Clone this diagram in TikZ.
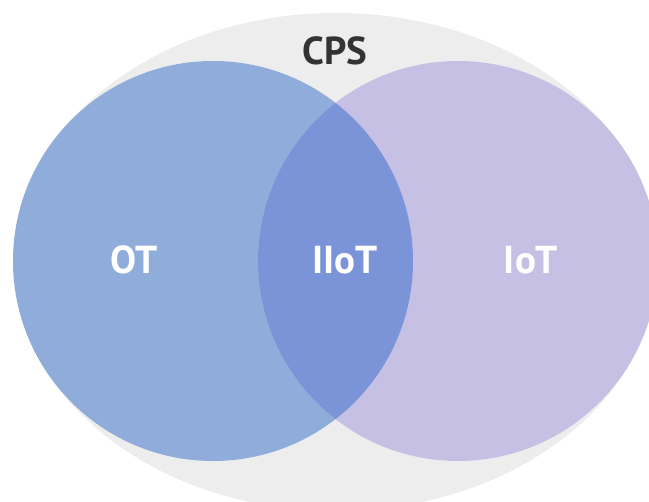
\documentclass[tikz,border=0pt]{standalone}
\usepackage{fontspec}
\setmainfont{PT Sans}
\usepackage{tikz}
\usetikzlibrary{positioning}

\definecolor{cpsgrey}{HTML}{EDEDED}
\definecolor{otblue}{HTML}{8FACDB}
\definecolor{iotlilac}{HTML}{C6C0E5}
\definecolor{iiotblue}{HTML}{7B94D8}
\definecolor{cpstext}{HTML}{333333}

\begin{document}
\begin{tikzpicture}[
  x=1pt, y=-1pt,
  setlabel/.style={font=\bfseries\fontsize{39}{41}\selectfont, text=white, inner sep=0pt},
  cpslabel/.style={font=\bfseries\fontsize{39}{41}\selectfont, text=cpstext, inner sep=0pt}
]

\useasboundingbox (0,0) rectangle (649,502);
\clip (0,0) rectangle (649,502);

% Sets
\fill[cpsgrey] (336,262) ellipse [x radius=322, y radius=249];
\fill[otblue] (213,261) circle [radius=200];
\fill[iotlilac] (458,261) circle [radius=200];
\begin{scope}
  \clip (213,261) circle [radius=200];
  \fill[iiotblue] (458,261) circle [radius=200];
\end{scope}

% Nodes
\node[cpslabel] (cps) at (335,51) {CPS};
\node[setlabel] (ot) at (134,260) {OT};
\node[setlabel] (iiot) at (345,260) {IIoT};
\node[setlabel] (iot) at (531,260) {IoT};

\end{tikzpicture}
\end{document}
